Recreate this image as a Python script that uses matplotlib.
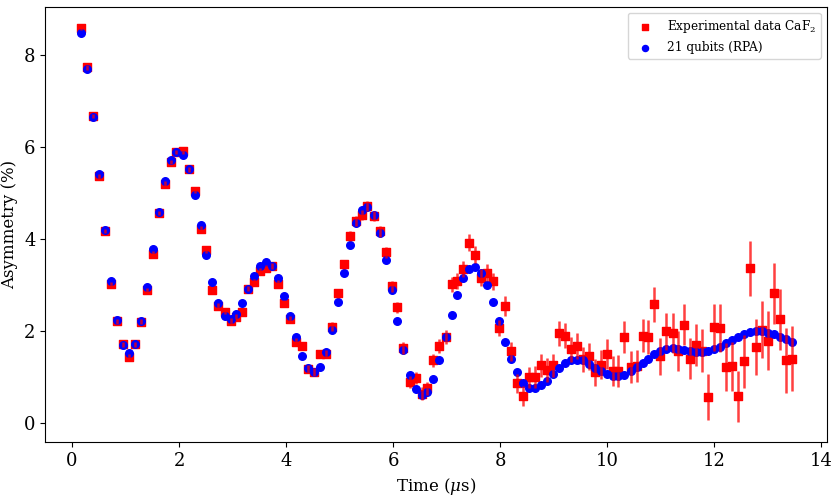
import numpy as np
import matplotlib
matplotlib.use('Agg')
import matplotlib.pyplot as plt

plt.rcParams['font.family'] = 'DejaVu Serif'
plt.rcParams['mathtext.fontset'] = 'dejavuserif'

# time grid (us)
time_us = [0.17, 0.28, 0.39, 0.50, 0.61, 0.73, 0.84, 0.95, 1.06, 1.17,
           1.28, 1.40, 1.51, 1.62, 1.73, 1.84, 1.95, 2.07, 2.18, 2.29,
           2.40, 2.51, 2.62, 2.73, 2.85, 2.96, 3.07, 3.18, 3.29, 3.40,
           3.52, 3.63, 3.74, 3.85, 3.96, 4.07, 4.19, 4.30, 4.41, 4.52,
           4.63, 4.74, 4.86, 4.97, 5.08, 5.19, 5.30, 5.41, 5.52, 5.64,
           5.75, 5.86, 5.97, 6.08, 6.19, 6.31, 6.42, 6.53, 6.64, 6.75,
           6.86, 6.98, 7.09, 7.20, 7.31, 7.42, 7.53, 7.65, 7.76, 7.87,
           7.98, 8.09, 8.20, 8.31, 8.43, 8.54, 8.65, 8.76, 8.87, 8.98,
           9.10, 9.21, 9.32, 9.43, 9.54, 9.65, 9.77, 9.88, 9.99, 10.10,
           10.21, 10.32, 10.44, 10.55, 10.66, 10.77, 10.88, 10.99, 11.10, 11.22,
           11.33, 11.44, 11.55, 11.66, 11.77, 11.89, 12.00, 12.11, 12.22, 12.33,
           12.44, 12.56, 12.67, 12.78, 12.89, 13.00, 13.11, 13.23, 13.34, 13.45]

# experimental asymmetry CaF2 (%)
exp_asym = [8.59, 7.74, 6.68, 5.37, 4.18, 3.03, 2.22, 1.72, 1.45, 1.72,
            2.21, 2.90, 3.69, 4.57, 5.21, 5.68, 5.90, 5.91, 5.52, 5.05,
            4.22, 3.76, 2.91, 2.56, 2.43, 2.23, 2.32, 2.43, 2.93, 3.07,
            3.31, 3.38, 3.42, 3.04, 2.62, 2.26, 1.77, 1.68, 1.18, 1.12,
            1.51, 1.51, 2.10, 2.83, 3.46, 4.07, 4.39, 4.53, 4.72, 4.51,
            4.18, 3.72, 2.98, 2.52, 1.63, 0.90, 0.98, 0.65, 0.76, 1.37,
            1.68, 1.88, 3.02, 3.09, 3.35, 3.93, 3.67, 3.17, 3.28, 3.09,
            2.07, 2.55, 1.57, 0.87, 0.59, 1.00, 1.00, 1.26, 1.17, 1.26,
            1.96, 1.91, 1.61, 1.68, 1.39, 1.46, 1.11, 1.28, 1.51, 1.14,
            1.14, 1.88, 1.23, 1.25, 1.91, 1.88, 2.59, 1.46, 2.00, 1.96,
            1.57, 2.15, 1.41, 1.70, 1.58, 0.57, 2.09, 2.07, 1.22, 1.24,
            0.59, 1.35, 3.37, 1.67, 2.04, 1.80, 2.83, 2.26, 1.37, 1.41]

exp_err = [0.05, 0.05, 0.05, 0.05, 0.05, 0.05, 0.05, 0.05, 0.05, 0.05,
           0.05, 0.05, 0.05, 0.05, 0.05, 0.05, 0.05, 0.05, 0.05, 0.05,
           0.06, 0.06, 0.06, 0.06, 0.06, 0.06, 0.06, 0.06, 0.06, 0.06,
           0.07, 0.07, 0.07, 0.07, 0.07, 0.07, 0.09, 0.09, 0.09, 0.09,
           0.09, 0.09, 0.10, 0.10, 0.10, 0.11, 0.11, 0.11, 0.11, 0.11,
           0.12, 0.12, 0.12, 0.12, 0.13, 0.13, 0.13, 0.14, 0.14, 0.14,
           0.15, 0.15, 0.16, 0.17, 0.17, 0.18, 0.18, 0.18, 0.18, 0.18,
           0.18, 0.21, 0.21, 0.21, 0.22, 0.22, 0.24, 0.25, 0.26, 0.26,
           0.27, 0.27, 0.27, 0.28, 0.28, 0.29, 0.30, 0.31, 0.32, 0.33,
           0.34, 0.34, 0.35, 0.35, 0.36, 0.37, 0.38, 0.40, 0.41, 0.43,
           0.44, 0.44, 0.45, 0.46, 0.47, 0.50, 0.51, 0.52, 0.52, 0.53,
           0.56, 0.57, 0.60, 0.61, 0.62, 0.64, 0.66, 0.67, 0.70, 0.70]

# 21-qubit RPA simulation (%)
sim_asym = [8.48, 7.70, 6.66, 5.43, 4.20, 3.09, 2.24, 1.70, 1.54, 1.72,
            2.22, 2.96, 3.79, 4.59, 5.27, 5.72, 5.90, 5.83, 5.52, 4.96,
            4.31, 3.65, 3.07, 2.61, 2.33, 2.27, 2.38, 2.61, 2.93, 3.20,
            3.42, 3.51, 3.42, 3.15, 2.78, 2.33, 1.88, 1.46, 1.20, 1.12,
            1.22, 1.55, 2.04, 2.63, 3.28, 3.87, 4.35, 4.64, 4.71, 4.53,
            4.14, 3.56, 2.90, 2.22, 1.59, 1.06, 0.74, 0.62, 0.69, 0.96,
            1.37, 1.87, 2.35, 2.80, 3.15, 3.35, 3.39, 3.26, 3.00, 2.63,
            2.22, 1.78, 1.41, 1.11, 0.89, 0.78, 0.76, 0.83, 0.93, 1.07,
            1.20, 1.31, 1.38, 1.37, 1.37, 1.30, 1.20, 1.13, 1.07, 1.03,
            1.04, 1.05, 1.13, 1.23, 1.31, 1.41, 1.51, 1.57, 1.62, 1.64,
            1.61, 1.59, 1.57, 1.56, 1.56, 1.57, 1.61, 1.67, 1.74, 1.81,
            1.88, 1.94, 1.98, 2.01, 2.00, 1.97, 1.94, 1.88, 1.83, 1.76]

fig = plt.figure(figsize=(8.35, 4.97), dpi=100)
ax = fig.add_axes([0.0543, 0.110, 0.9357, 0.876])

ax.scatter(time_us, exp_asym, marker='s', s=30, color='red',
           label=r'Experimental data CaF$_2$', zorder=2)
ax.scatter(time_us, sim_asym, marker='o', s=30, color='blue',
           label='21 qubits (RPA)', zorder=3)
ax.errorbar(time_us, exp_asym, yerr=exp_err, fmt='none', ecolor='red',
            elinewidth=1.8, alpha=0.75, zorder=4)

ax.set_xlim(-0.5, 14.1)
ax.set_ylim(-0.41, 9.05)
ax.set_xticks(np.arange(0, 15, 2))
ax.set_yticks(np.arange(0, 9, 2))
ax.tick_params(labelsize=13)
ax.set_xlabel(r'Time ($\mu$s)', fontsize=12)
ax.set_ylabel('Asymmetry (%)', fontsize=12)
ax.legend(loc='upper right', fontsize=8.7, markerscale=0.8)

fig.savefig('out.png', dpi=100)
